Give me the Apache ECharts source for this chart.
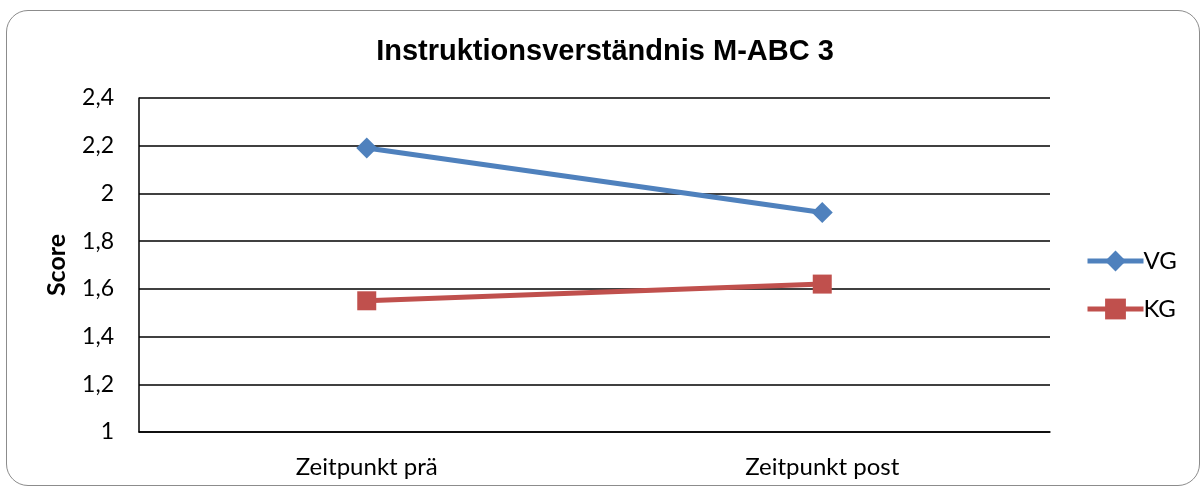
<!DOCTYPE html>
<html>
<head>
<meta charset="utf-8">
<script src="https://cdn.jsdelivr.net/npm/echarts@6/dist/echarts.min.js"></script>
<style>
  html, body { margin: 0; padding: 0; background: #fff; }
  #frame {
    position: absolute; left: 6px; top: 10px; width: 1192px; height: 474px;
    border: 1.5px solid #8c8c8c; border-radius: 22px;
  }
  #chart { position: absolute; left: 0; top: 0; width: 1204px; height: 490px; }
</style>
</head>
<body>
<div id="frame"></div>
<div id="chart"></div>
<script>
var categories = ["Zeitpunkt prä", "Zeitpunkt post"];
var vgValues = [2.19, 1.92];
var kgValues = [1.55, 1.62];
var yTicks = { min: 1, max: 2.4, step: 0.2 };

var myChart = echarts.init(document.getElementById("chart"));
var font = "Lato, 'Open Sans', sans-serif";

var option = {
  animation: false,
  title: {
    text: "Instruktionsverständnis M-ABC 3",
    left: 600,
    textAlign: "center",
    top: 32,
    textStyle: {
      fontFamily: "'Liberation Sans', Arial, sans-serif",
      fontWeight: "bold",
      fontSize: 29,
      color: "#000"
    }
  },
  grid: { left: 139, right: 154, top: 98, bottom: 58, containLabel: false },
  legend: {
    orient: "vertical",
    left: 1080,
    top: 244,
    itemWidth: 56,
    itemHeight: 26,
    itemGap: 24,
    lineStyle: { width: 5 },
    textStyle: { fontFamily: font, fontSize: 24, color: "#000", padding: [0, 0, 0, -5] },
    data: ["VG", "KG"]
  },
  xAxis: {
    type: "category",
    data: categories,
    boundaryGap: true,
    axisLine: { lineStyle: { color: "#000", width: 1.5 } },
    axisTick: { show: false },
    axisLabel: { fontFamily: font, fontSize: 24, color: "#000", margin: 23 }
  },
  yAxis: {
    type: "value",
    min: yTicks.min,
    max: yTicks.max,
    interval: yTicks.step,
    name: "Score",
    nameLocation: "middle",
    nameGap: 70,
    nameTextStyle: { fontFamily: font, fontSize: 25, fontWeight: "bold", color: "#000" },
    axisLine: { show: true, lineStyle: { color: "#000", width: 1.5 } },
    axisTick: { show: false },
    splitLine: { lineStyle: { color: "#000", width: 1.5 } },
    axisLabel: {
      fontFamily: font, fontSize: 23, color: "#000", margin: 25,
      formatter: function (v) { return String(Math.round(v * 10) / 10).replace(".", ","); }
    }
  },
  series: [
    {
      name: "VG",
      type: "line",
      data: vgValues,
      symbol: "diamond",
      symbolSize: 21,
      lineStyle: { color: "#4F81BD", width: 5 },
      itemStyle: { color: "#4F81BD" }
    },
    {
      name: "KG",
      type: "line",
      data: kgValues,
      symbol: "rect",
      symbolSize: 19,
      lineStyle: { color: "#C0504D", width: 5 },
      itemStyle: { color: "#C0504D" }
    }
  ]
};

myChart.setOption(option);
</script>
</body>
</html>
